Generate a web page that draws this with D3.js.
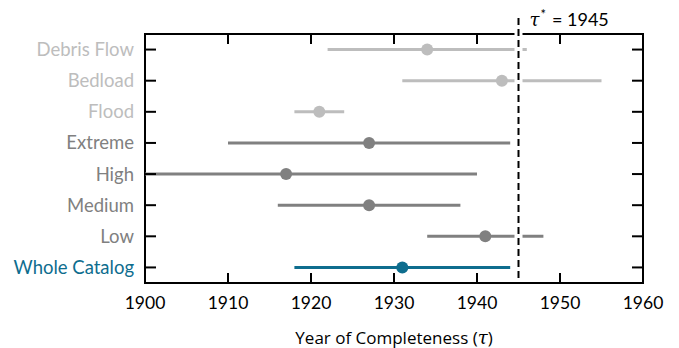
<!DOCTYPE html>
<html>
<head>
<meta charset="utf-8">
<script src="https://cdn.jsdelivr.net/npm/d3@7"></script>
<style>
  body { margin: 0; background: white; }
  svg { font-family: Lato, "Open Sans", sans-serif; }
</style>
</head>
<body>
<div id="chart"></div>
<script>
const width = 679
const height = 348
const margin = { top: 34, right: 36, bottom: 65, left: 145 }

// rows from top to bottom
const categories = ["Debris Flow", "Bedload", "Flood", "Extreme", "High", "Medium", "Low", "Whole Catalog"]
const estimates = [1934, 1943, 1921, 1927, 1917, 1927, 1941, 1931]
const lowerBounds = [1922, 1931, 1918, 1910, 1900, 1916, 1934, 1918]
const upperBounds = [1946, 1955, 1924, 1944, 1940, 1938, 1948, 1944]
const groups = ["type", "type", "type", "intensity", "intensity", "intensity", "intensity", "all"]
const xTicks = [1900, 1910, 1920, 1930, 1940, 1950, 1960]
const tauStar = 1945

const colors = { type: "#bdbdbd", intensity: "#808080", all: "#0e6d8e" }

const innerW = width - margin.left - margin.right
const innerH = height - margin.top - margin.bottom

var x = d3.scaleLinear([1900, 1960], [0, innerW])
var y = d3.scalePoint(categories, [0, innerH]).padding(0.5)

var svg = d3.select("#chart").append("svg")
  .attr("width", width)
  .attr("height", height)

var g = svg.append("g").attr("transform", `translate(${margin.left},${margin.top})`)

// frame
g.append("rect")
  .attr("width", innerW)
  .attr("height", innerH)
  .style("fill", "none")
  .style("stroke", "black")
  .style("stroke-width", 2)

// error bars
g.append("g").selectAll("line")
  .data(categories)
  .enter().append("line")
  .attr("x1", (d, i) => x(lowerBounds[i]))
  .attr("x2", (d, i) => x(upperBounds[i]))
  .attr("y1", d => y(d))
  .attr("y2", d => y(d))
  .style("stroke", (d, i) => colors[groups[i]])
  .style("stroke-width", 3)

g.append("g").selectAll("circle")
  .data(categories)
  .enter().append("circle")
  .attr("cx", (d, i) => x(estimates[i]))
  .attr("cy", d => y(d))
  .attr("r", 6)
  .style("fill", (d, i) => colors[groups[i]])

// x ticks (inward, top and bottom)
var xt = g.append("g").selectAll("g").data(xTicks).enter().append("g")
xt.append("line")
  .attr("x1", d => x(d)).attr("x2", d => x(d))
  .attr("y1", innerH).attr("y2", innerH - 10)
  .style("stroke", "black").style("stroke-width", 2)
xt.append("line")
  .attr("x1", d => x(d)).attr("x2", d => x(d))
  .attr("y1", 0).attr("y2", 10)
  .style("stroke", "black").style("stroke-width", 2)
xt.append("text")
  .attr("x", d => x(d))
  .attr("y", innerH + 26)
  .attr("text-anchor", "middle")
  .style("font-size", "17.5px")
  .text(d => d)

// y ticks (inward, left and right) + labels
var yt = g.append("g").selectAll("g").data(categories).enter().append("g")
yt.append("line")
  .attr("x1", 0).attr("x2", 11)
  .attr("y1", d => y(d)).attr("y2", d => y(d))
  .style("stroke", "black").style("stroke-width", 2)
yt.append("line")
  .attr("x1", innerW).attr("x2", innerW - 11)
  .attr("y1", d => y(d)).attr("y2", d => y(d))
  .style("stroke", "black").style("stroke-width", 2)
yt.append("text")
  .attr("x", -11)
  .attr("y", d => y(d))
  .attr("dy", "0.35em")
  .attr("text-anchor", "end")
  .style("font-size", "18.5px")
  .style("fill", (d, i) => colors[groups[i]])
  .text(d => d)

// tau* line with white halo
g.append("line")
  .attr("x1", x(tauStar)).attr("x2", x(tauStar))
  .attr("y1", -16).attr("y2", innerH - 4)
  .style("stroke", "white").style("stroke-width", 8)
g.append("line")
  .attr("x1", x(tauStar)).attr("x2", x(tauStar))
  .attr("y1", -16).attr("y2", innerH - 4)
  .style("stroke", "black").style("stroke-width", 2)
  .style("stroke-dasharray", "7,4")

var ann = g.append("text")
  .attr("x", x(tauStar) + 11)
  .attr("y", -8)
  .style("font-size", "18px")
ann.append("tspan").style("font-family", "'DejaVu Serif', serif").style("font-style", "italic").text("τ")
ann.append("tspan").attr("dy", -7).attr("dx", 1).style("font-size", "13px").text("*")
ann.append("tspan").attr("dy", 7).attr("dx", 6).text("= " + tauStar)

// axis title
var title = g.append("text")
  .attr("x", innerW / 2)
  .attr("y", innerH + 61)
  .attr("text-anchor", "middle")
  .style("font-family", "'Open Sans', sans-serif")
  .style("font-size", "17px")
title.append("tspan").text("Year of Completeness (")
title.append("tspan").style("font-family", "'DejaVu Serif', serif").style("font-style", "italic").style("font-size", "18px").text("τ")
title.append("tspan").text(")")
</script>
</body>
</html>
